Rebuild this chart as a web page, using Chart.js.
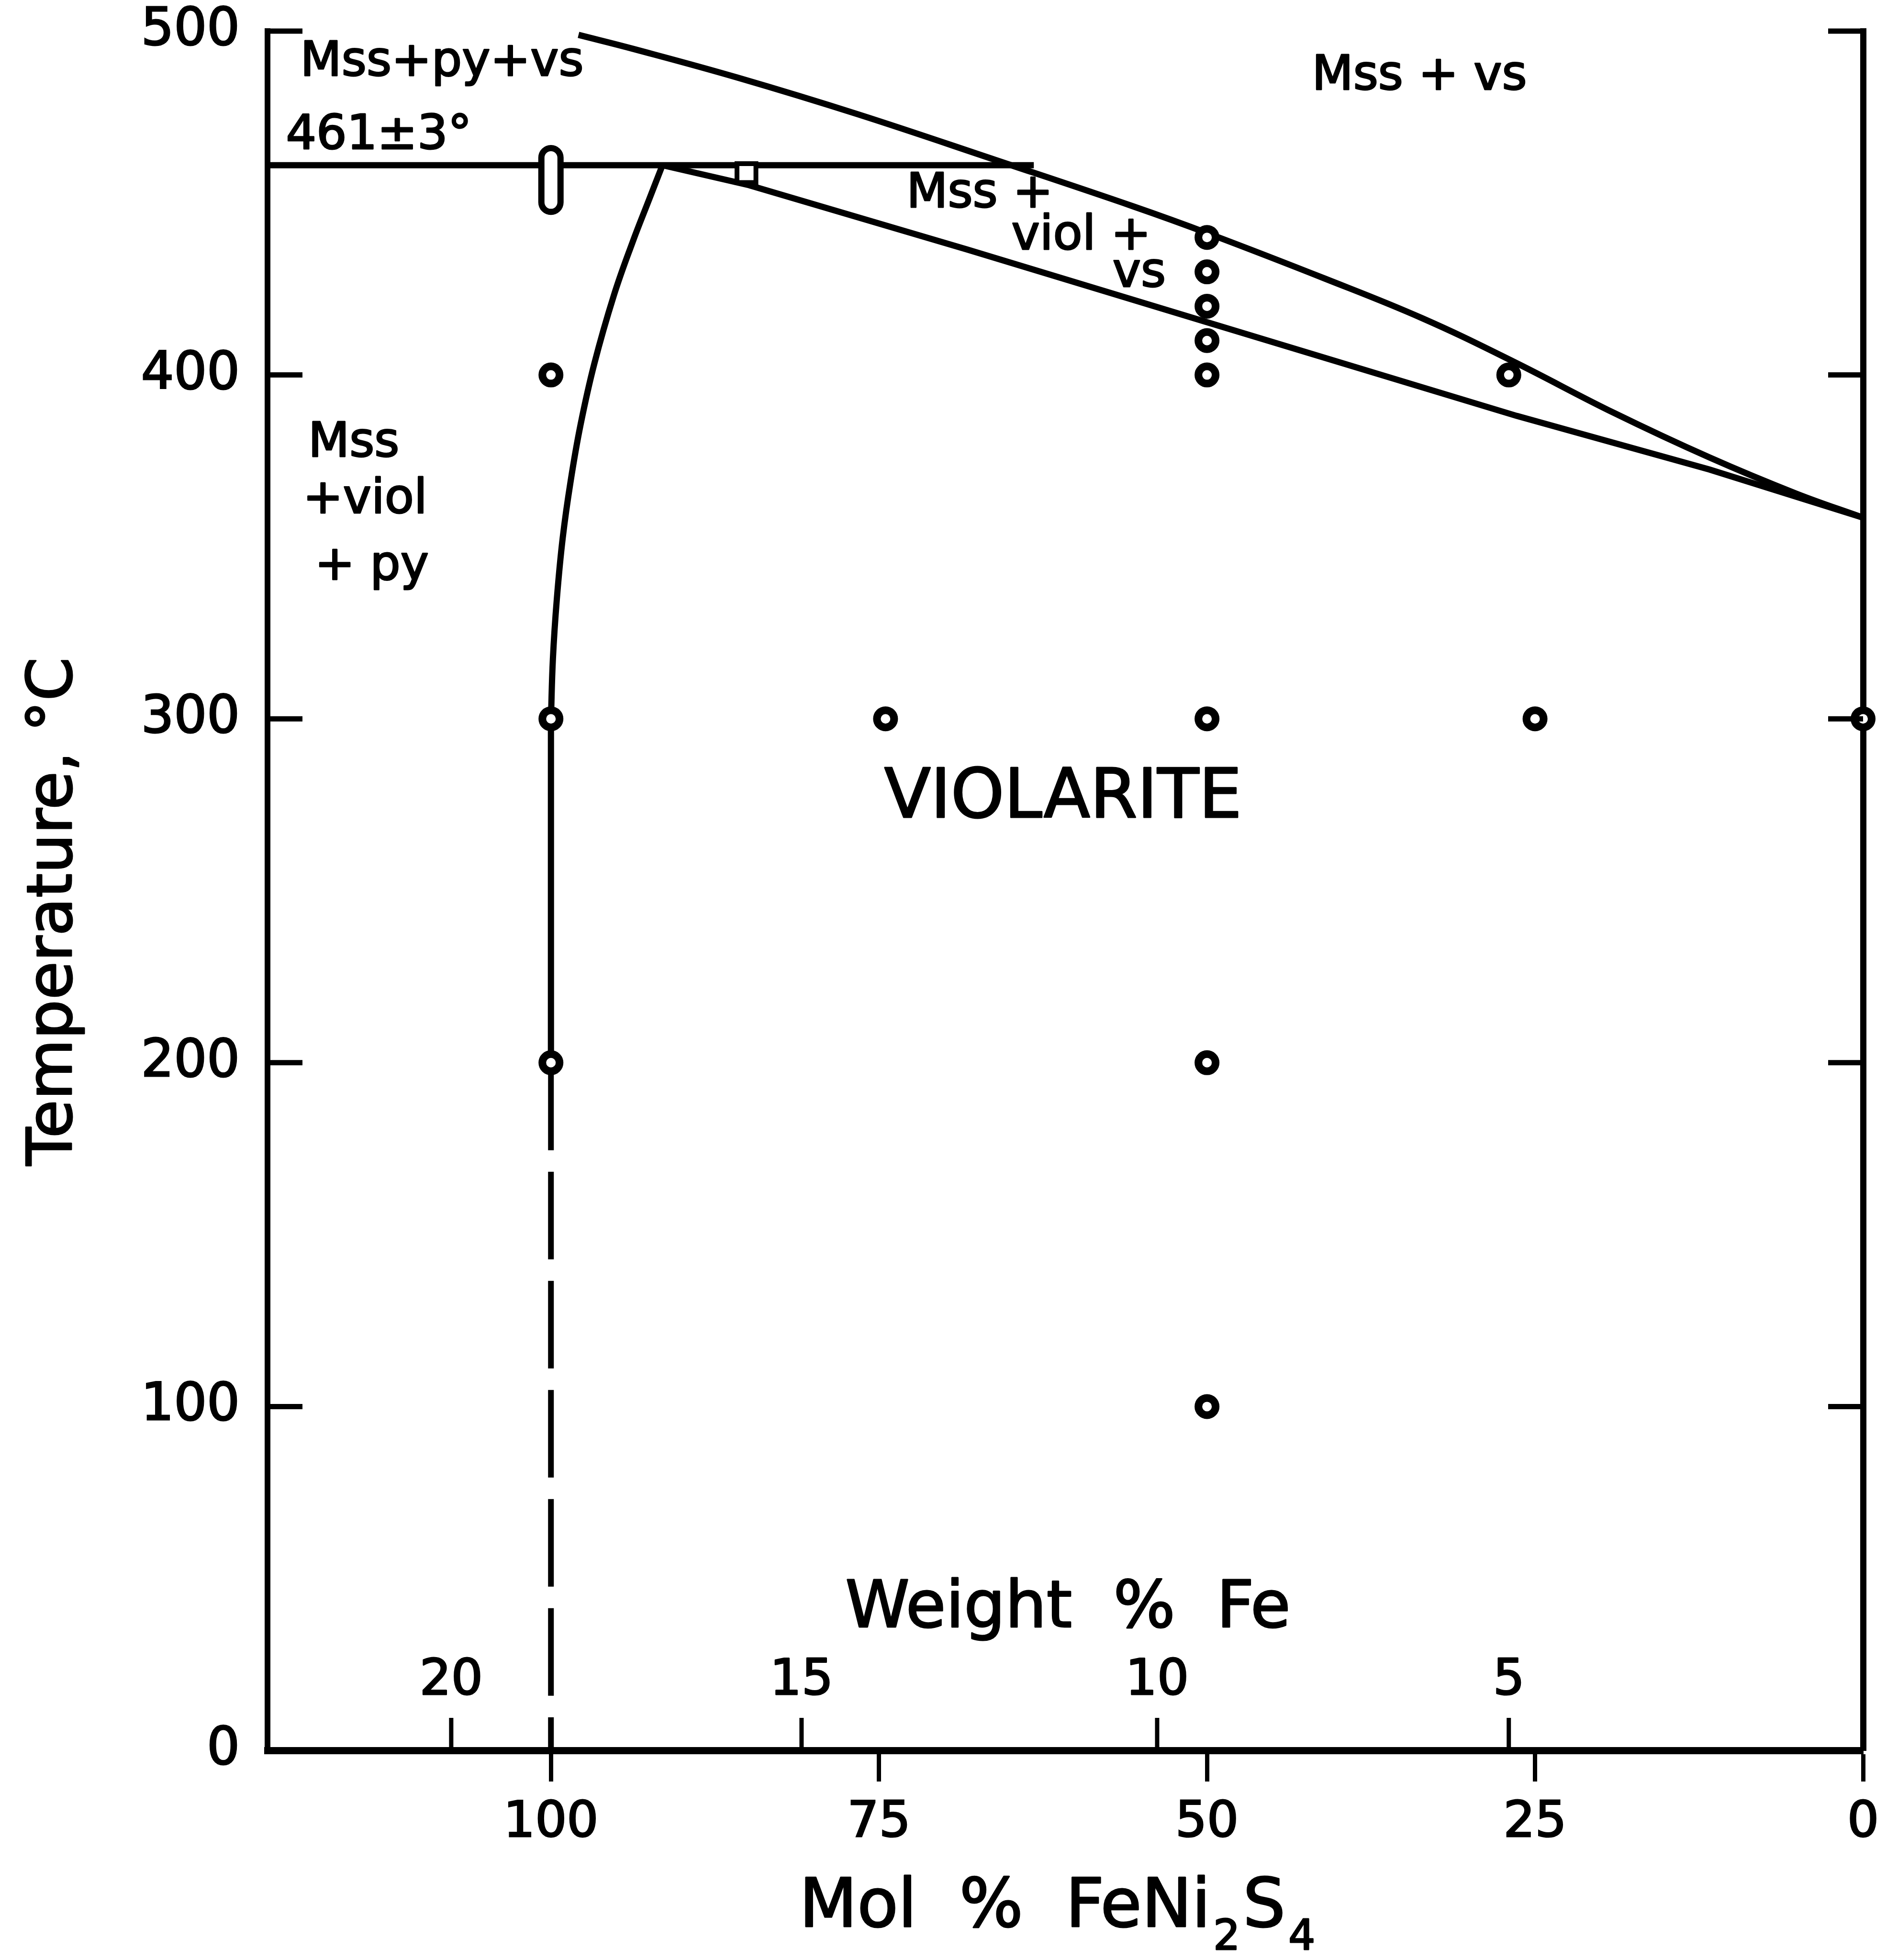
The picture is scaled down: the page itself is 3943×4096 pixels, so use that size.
<!DOCTYPE html>
<html>
<head>
<meta charset="utf-8">
<script src="https://cdn.jsdelivr.net/npm/chart.js@4.4.1/dist/chart.umd.min.js"></script>
<style>
  html, body { margin: 0; padding: 0; background: #fff; }
</style>
</head>
<body>
<canvas id="grafico" width="3943" height="4096"></canvas>
<script>
// Mol % FeNi2S4 runs from 0 at the right axis to about 121.6 at the left axis
const molTicks = [100, 75, 50, 25, 0];
const tempTicks = [0, 100, 200, 300, 400, 500];
const weightLabels = ['20', '15', '10', '5'];
const weightAtMol = [107.6, 80.9, 53.8, 27.0];

// phase boundaries as [mol %, °C]
const isotherm461 = [[121.6, 461], [63.2, 461]];
const upperCurve = [[97.9, 498.9], [93.7, 494.8], [85.8, 486.5], [76.6, 475.8], [66.1, 462.5], [55.6, 449.0],
  [49.8, 441.0], [41.0, 428.0], [33.6, 416.5], [26.7, 404.0], [19.0, 389.0], [11.7, 376.0], [5.1, 365.5], [0, 358.5]];
const lowerCurve = [[91.5, 461], [84.9, 455.2], [68.3, 436.5], [49.8, 415.1], [26.4, 388.1], [11.7, 372.5], [0, 358.5]];
const solvus = [[91.5, 461], [92.5, 451.2], [93.8, 438.4], [95.2, 423.2], [96.7, 403.2], [97.75, 385.4],
  [98.5, 369.1], [99.1, 352.7], [99.55, 334.9], [99.85, 317.5], [100, 300]];
const feNi2S4Solid = [[100, 300], [100, 200]];
const feNi2S4Dashed = [[100, 200], [100, 0]];

// experiments
const runMol = [100, 100, 100, 74.5, 50, 50, 50, 50, 50, 50, 50, 50, 27, 25, 0];
const runTemp = [400, 300, 200, 300, 440, 430, 420, 410, 400, 300, 200, 100, 400, 300, 300];
const capsuleRun = [[100, 463.2], [100, 450.2]];
const squareRun = [[85.1, 458.7]];

// field labels
const fieldText = ['Mss+py+vs', '461±3°', 'Mss + vs', 'Mss +', 'viol +', 'vs', 'Mss', '+viol', '+ py', 'VIOLARITE'];
const fieldAt = [[119.1, 487], [120.2, 465.7], [42.0, 483], [72.9, 448.8], [64.9, 436.5], [57.2, 425.7],
  [118.5, 376.3], [118.9, 359.8], [118.0, 340.5], [74.6, 271.3]];

const black = '#000';
const family = '"DejaVu Sans", "Liberation Sans", sans-serif';

function pts(list) {
    return list.map(p => ({ x: p[0], y: p[1] }));
}

function curve(list, width, extra) {
    return Object.assign({
        data: pts(list),
        showLine: true,
        borderColor: black,
        borderWidth: width,
        pointRadius: 0,
        tension: 0,
        fill: false,
        order: 10
    }, extra || {});
}

function noPad(s) {
    s.paddingTop = 0;
    s.paddingBottom = 0;
    s.paddingLeft = 0;
    s.paddingRight = 0;
}

// filled text with a thin outline, the lettering of the original is a little heavy
function say(ctx, text, px, py) {
    ctx.fillText(text, px, py);
    ctx.strokeText(text, px, py);
}

// texts, weight % scale and inward ticks
const annotate = {
    id: 'annotate',
    afterDatasetsDraw(chart) {
        const { ctx, chartArea: a, scales: { x, y } } = chart;
        ctx.save();
        ctx.strokeStyle = black;
        ctx.fillStyle = black;

        ctx.lineWidth = 11;
        tempTicks.filter(t => t > 0).forEach(t => {
            const py = y.getPixelForValue(t);
            ctx.beginPath();
            ctx.moveTo(a.left, py); ctx.lineTo(a.left + 73, py);
            ctx.moveTo(a.right - 73, py); ctx.lineTo(a.right, py);
            ctx.stroke();
        });

        // Weight % Fe scale along the inside of the bottom axis
        ctx.lineWidth = 9;
        weightAtMol.forEach(m => {
            const px = x.getPixelForValue(m);
            ctx.beginPath();
            ctx.moveTo(px, a.bottom); ctx.lineTo(px, a.bottom - 68);
            ctx.stroke();
        });
        ctx.lineWidth = 3;
        ctx.lineJoin = 'round';
        ctx.textAlign = 'center';
        ctx.textBaseline = 'alphabetic';
        ctx.font = '104px ' + family;
        weightAtMol.forEach((m, i) => say(ctx, weightLabels[i], x.getPixelForValue(m), a.bottom - 117));
        ctx.font = '136px ' + family;
        say(ctx, 'Weight  %  Fe', x.getPixelForValue(60.6), a.bottom - 258);

        // field names
        ctx.textAlign = 'left';
        fieldText.forEach((t, i) => {
            ctx.font = (t === 'VIOLARITE' ? 142 : 100) + 'px ' + family;
            say(ctx, t, x.getPixelForValue(fieldAt[i][0]), y.getPixelForValue(fieldAt[i][1]));
        });

        // Mol % FeNi2S4 with subscripts
        const parts = [['Mol  %  FeNi', 140, 0], ['2', 88, 48], ['S', 140, 0], ['4', 88, 48]];
        let total = 0;
        parts.forEach(p => { ctx.font = p[1] + 'px ' + family; total += ctx.measureText(p[0]).width + 6; });
        let cx = x.getPixelForValue(61.3) - total / 2;
        const base = a.bottom + 368;
        parts.forEach(p => {
            ctx.font = p[1] + 'px ' + family;
            say(ctx, p[0], cx, base + p[2]);
            cx += ctx.measureText(p[0]).width + 6;
        });

        // y title
        ctx.translate(149, y.getPixelForValue(244));
        ctx.rotate(-Math.PI / 2);
        ctx.textAlign = 'center';
        ctx.font = '130px ' + family;
        say(ctx, 'Temperature, °C', 0, 0);
        ctx.restore();
    }
};

const ctx = document.getElementById('grafico').getContext('2d');
const grafico = new Chart(ctx, {
    type: 'scatter',
    data: {
        datasets: [
            {
                label: 'runs',
                data: runMol.map((m, i) => ({ x: m, y: runTemp[i] })),
                pointRadius: 18,
                pointBorderWidth: 16,
                pointBackgroundColor: '#fff',
                pointBorderColor: black,
                clip: false,
                order: 0
            },
            {
                label: 'square run',
                data: pts(squareRun),
                pointStyle: 'rect',
                pointRadius: 28,
                pointBorderWidth: 10,
                pointBackgroundColor: '#fff',
                pointBorderColor: black,
                order: 0
            },
            curve(capsuleRun, 27, { borderColor: '#fff', borderCapStyle: 'round', order: 1 }),
            curve(capsuleRun, 53, { borderCapStyle: 'round', order: 2 }),
            curve(isotherm461, 13),
            curve(upperCurve, 13, { tension: 0.4 }),
            curve(lowerCurve, 13),
            curve(solvus, 13, { tension: 0.4 }),
            curve(feNi2S4Solid, 13),
            curve(feNi2S4Dashed, 12, { borderDash: [183, 45] })
        ]
    },
    options: {
        responsive: false,
        animation: false,
        devicePixelRatio: 1,
        layout: { autoPadding: false, padding: { top: 65, left: 0, right: 0, bottom: 0 } },
        plugins: {
            legend: { display: false },
            tooltip: { enabled: false }
        },
        scales: {
            x: {
                type: 'linear',
                reverse: true,
                min: 0,
                max: 121.6,
                afterBuildTicks: s => { s.ticks = molTicks.map(v => ({ value: v })); },
                afterFit: s => { s.height = 438; noPad(s); },
                border: { display: true, color: black, width: 15 },
                grid: { drawOnChartArea: false, drawTicks: true, tickLength: 65, tickWidth: 9, tickColor: black },
                ticks: {
                    color: black,
                    font: { family: family, size: 104 },
                    textStrokeColor: black,
                    textStrokeWidth: 3,
                    padding: 26,
                    maxRotation: 0,
                    autoSkip: false
                }
            },
            y: {
                min: 0,
                max: 500,
                afterBuildTicks: s => { s.ticks = tempTicks.map(v => ({ value: v })); },
                afterFit: s => { s.width = 559; noPad(s); },
                border: { display: true, color: black, width: 12 },
                grid: { drawOnChartArea: false, drawTicks: false },
                ticks: {
                    color: black,
                    font: { family: family, size: 108 },
                    textStrokeColor: black,
                    textStrokeWidth: 3,
                    padding: 58
                }
            },
            y2: {
                position: 'right',
                min: 0,
                max: 500,
                afterFit: s => { s.width = 50; noPad(s); },
                border: { display: true, color: black, width: 13 },
                grid: { display: false },
                ticks: { display: false }
            }
        }
    },
    plugins: [annotate]
});
</script>
</body>
</html>
